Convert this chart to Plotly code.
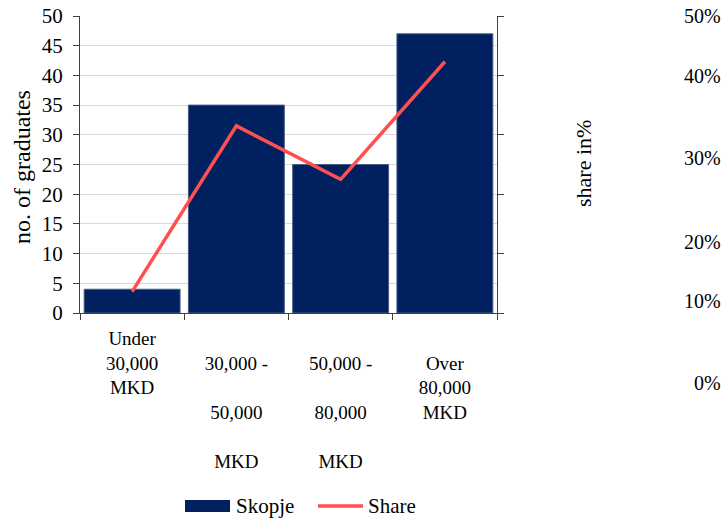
import plotly.graph_objects as go

# Monthly income brackets of graduates
categories = ["Under 30,000 MKD", "30,000 - 50,000 MKD", "50,000 - 80,000 MKD", "Over 80,000 MKD"]
category_labels = [
    "Under<br>30,000<br>MKD",
    "<br>30,000 -<br><br>50,000<br><br>MKD",
    "<br>50,000 -<br><br>80,000<br><br>MKD",
    "<br>Over<br>80,000<br>MKD",
]
skopje = [4, 35, 25, 47]
share = [0.036, 0.315, 0.225, 0.423]
share_labels = ["50%", "40%", "30%", "20%", "10%", "0%"]
series_names = ["Skopje", "Share"]

# Pixel rows of the free-standing share labels on the right
share_label_rows = [16, 76, 158, 242, 301, 383]

W, H = 725, 520
L, R, T, B = 80, 228, 16, 207
plot_w = W - L - R
plot_h = H - T - B

FONT = "Liberation Serif, Times New Roman, serif"
BAR_COLOR = "#002060"
LINE_COLOR = "#FF5050"
AXIS_COLOR = "#404040"


def px_x(px):
    return (px - L) / plot_w


def px_y(py):
    return (H - B - py) / plot_h


fig = go.Figure()
fig.add_trace(go.Bar(
    x=categories, y=skopje, name=series_names[0],
    marker=dict(color=BAR_COLOR, line=dict(color="#4a5d85", width=1)),
    yaxis="y",
))
fig.add_trace(go.Scatter(
    x=categories, y=share, name=series_names[1], mode="lines",
    line=dict(color=LINE_COLOR, width=3.5),
    yaxis="y2",
))

fig.update_layout(
    width=W, height=H,
    margin=dict(l=L, r=R, t=T, b=B, autoexpand=False),
    paper_bgcolor="white", plot_bgcolor="white",
    font=dict(family=FONT, color="black", size=19),
    bargap=0.08,
    showlegend=False,
    xaxis=dict(
        type="category", tickmode="array", tickvals=categories, ticktext=category_labels,
        showline=True, linecolor=AXIS_COLOR, linewidth=1,
        ticks="outside", ticklen=6, tickcolor=AXIS_COLOR, tickson="boundaries",
        tickfont=dict(family=FONT, size=19), showgrid=False, automargin=False,
        ticklabelstandoff=8,
    ),
    yaxis=dict(
        range=[0, 50], dtick=5, showline=True, linecolor=AXIS_COLOR, linewidth=1,
        ticks="outside", ticklen=6, tickcolor=AXIS_COLOR,
        showgrid=True, gridcolor="#d9d9d9", gridwidth=1,
        tickfont=dict(family=FONT, size=21), zeroline=False, automargin=False,
        ticklabelstandoff=6,
    ),
    yaxis2=dict(
        overlaying="y", side="right", range=[0, 0.5], dtick=0.1,
        showline=True, linecolor=AXIS_COLOR, linewidth=1,
        ticks="outside", ticklen=6, tickcolor=AXIS_COLOR,
        showticklabels=False, showgrid=False, zeroline=False, automargin=False,
    ),
)

annotations = [
    dict(text="no. of graduates", xref="paper", yref="paper",
         x=px_x(22), y=px_y(167),
         textangle=-90, showarrow=False, xanchor="center", yanchor="middle",
         font=dict(family=FONT, size=24)),
    dict(text="share in%", xref="paper", yref="paper",
         x=px_x(583), y=px_y(164),
         textangle=-90, showarrow=False, xanchor="center", yanchor="middle",
         font=dict(family=FONT, size=22)),
]
for lab, row in zip(share_labels, share_label_rows):
    annotations.append(dict(
        text=lab, xref="paper", yref="paper",
        x=px_x(723), y=px_y(row),
        showarrow=False, xanchor="right", yanchor="middle",
        font=dict(family=FONT, size=20),
    ))

# Legend drawn by hand: wide swatch for the bars, short stroke for the line
legend_row = 506
annotations += [
    dict(text=series_names[0], xref="paper", yref="paper", x=px_x(234), y=px_y(legend_row),
         showarrow=False, xanchor="left", yanchor="middle", font=dict(family=FONT, size=21)),
    dict(text=series_names[1], xref="paper", yref="paper", x=px_x(366), y=px_y(legend_row),
         showarrow=False, xanchor="left", yanchor="middle", font=dict(family=FONT, size=21)),
]
shapes = [
    dict(type="rect", xref="paper", yref="paper",
         x0=px_x(185), x1=px_x(230), y0=px_y(512), y1=px_y(500),
         fillcolor=BAR_COLOR, line=dict(width=0)),
    dict(type="line", xref="paper", yref="paper",
         x0=px_x(318), x1=px_x(363), y0=px_y(legend_row), y1=px_y(legend_row),
         line=dict(color=LINE_COLOR, width=3.5)),
]
fig.update_layout(annotations=annotations, shapes=shapes)

fig.write_html("out.html")
